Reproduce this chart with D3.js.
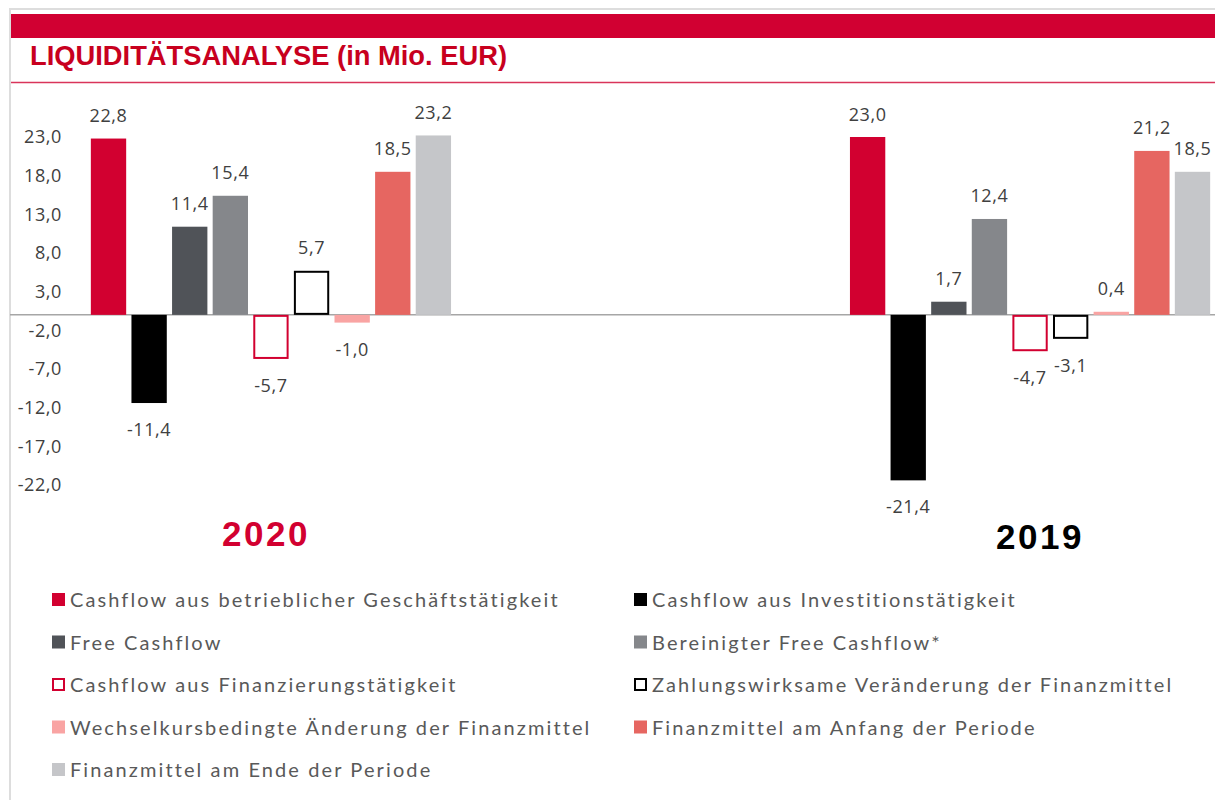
<!DOCTYPE html>
<html>
<head>
<meta charset="utf-8">
<script src="https://cdn.jsdelivr.net/npm/d3@7"></script>
<style>
  body { margin: 0; background: #fff; }
  svg { display: block; }
</style>
</head>
<body>
<div id="chart"></div>
<script>
// chart data
var years = ["2020", "2019"];
var series = [
  "Cashflow aus betrieblicher Geschäftstätigkeit",
  "Cashflow aus Investitionstätigkeit",
  "Free Cashflow",
  "Bereinigter Free Cashflow*",
  "Cashflow aus Finanzierungstätigkeit",
  "Zahlungswirksame Veränderung der Finanzmittel",
  "Wechselkursbedingte Änderung der Finanzmittel",
  "Finanzmittel am Anfang der Periode",
  "Finanzmittel am Ende der Periode"
];
var values2020 = [22.8, -11.4, 11.4, 15.4, -5.7, 5.7, -1.0, 18.5, 23.2];
var values2019 = [23.0, -21.4, 1.7, 12.4, -4.7, -3.1, 0.4, 21.2, 18.5];
var yTicks = [23, 18, 13, 8, 3, -2, -7, -12, -17, -22];

// colours per series, outlined ones get a stroke instead of a fill
var fills   = ["#d20030", "#000000", "#505358", "#85878b", "#ffffff", "#ffffff", "#f9a4a3", "#e66661", "#c5c6c9"];
var strokes = [null, null, null, null, "#d20030", "#000000", null, null, null];

var width = 1215, height = 800;

// german number format: comma decimal, plain hyphen as minus
var de = d3.formatLocale({ decimal: ",", thousands: ".", grouping: [3], currency: ["", " €"], minus: "-" });
var fmt = de.format(".1f");

var svg = d3.select("#chart").append("svg")
  .attr("width", width)
  .attr("height", height);

// frame: gray top line, left border, red band, title, red rule
svg.append("line").attr("x1", 10).attr("x2", width).attr("y1", 9).attr("y2", 9)
  .attr("stroke", "#dddddd").attr("stroke-width", 2);
svg.append("line").attr("x1", 10).attr("x2", 10).attr("y1", 8).attr("y2", height)
  .attr("stroke", "#dddddd").attr("stroke-width", 2);
svg.append("rect").attr("x", 11).attr("y", 14).attr("width", width - 11).attr("height", 24)
  .attr("fill", "#d10032");
svg.append("text")
  .attr("x", 30).attr("y", 65)
  .attr("textLength", 477).attr("lengthAdjust", "spacingAndGlyphs")
  .style("font-family", "'Liberation Sans', Arial, sans-serif")
  .style("font-weight", "bold")
  .style("font-size", "27px")
  .attr("fill", "#c8001e")
  .text("LIQUIDITÄTSANALYSE (in Mio. EUR)");
svg.append("line").attr("x1", 11).attr("x2", width).attr("y1", 82.5).attr("y2", 82.5)
  .attr("stroke", "#d9345a").attr("stroke-width", 1.5);

// scales
var y = d3.scaleLinear().domain([-22, 23]).range([485, 137]);
var x0 = d3.scaleBand().domain(years).range([88, 1213]).paddingInner(0.518).paddingOuter(0);
var x1 = d3.scaleBand().domain(d3.range(series.length)).range([0, x0.bandwidth()])
  .paddingInner(0.13).paddingOuter(0.07);

// y axis labels only
var yAxis = d3.axisLeft(y).tickValues(yTicks).tickFormat(fmt).tickSize(0).tickPadding(0);
var gy = svg.append("g").attr("transform", "translate(62,0)").call(yAxis);
gy.select(".domain").remove();
gy.selectAll("text")
  .style("font-family", "'Open Sans', sans-serif")
  .style("font-size", "18px")
  .style("letter-spacing", "0.6px")
  .attr("fill", "#404040");

// zero line
svg.append("line").attr("x1", 10).attr("x2", width).attr("y1", y(0)).attr("y2", y(0))
  .attr("stroke", "#a6a6a6").attr("stroke-width", 1.5);

// bars
var rows = [];
years.forEach(function(yr, j) {
  var vals = j === 0 ? values2020 : values2019;
  vals.forEach(function(v, i) { rows.push({ year: yr, i: i, value: v }); });
});

svg.append("g").selectAll("rect")
  .data(rows)
  .enter()
  .append("rect")
  .attr("x", function(d) { return x0(d.year) + x1(d.i) + (strokes[d.i] ? 1 : 0); })
  .attr("y", function(d) { return Math.min(y(d.value), y(0)) + (strokes[d.i] ? 1 : 0); })
  .attr("width", function(d) { return x1.bandwidth() - (strokes[d.i] ? 2 : 0); })
  .attr("height", function(d) { return Math.abs(y(d.value) - y(0)) - (strokes[d.i] ? 2 : 0); })
  .attr("fill", function(d) { return fills[d.i]; })
  .attr("stroke", function(d) { return strokes[d.i] || "none"; })
  .attr("stroke-width", 2);

// value labels
svg.append("g").selectAll("text")
  .data(rows)
  .enter()
  .append("text")
  .attr("x", function(d) { return x0(d.year) + x1(d.i) + x1.bandwidth() / 2; })
  .attr("y", function(d) { return d.value >= 0 ? y(d.value) - 16.5 : y(d.value) + 33; })
  .attr("text-anchor", "middle")
  .style("font-family", "'Open Sans', sans-serif")
  .style("font-size", "18px")
  .style("letter-spacing", "0.6px")
  .attr("fill", "#404040")
  .text(function(d) { return fmt(d.value); });

// year labels under each group
var yearColors = ["#d20030", "#000000"];
var yearDx = [-5, 10];
var yearDy = [546, 549];
svg.append("g").selectAll("text")
  .data(years)
  .enter()
  .append("text")
  .attr("x", function(d, j) { return x0(d) + x0.bandwidth() / 2 + yearDx[j]; })
  .attr("y", function(d, j) { return yearDy[j]; })
  .attr("text-anchor", "middle")
  .style("font-family", "'Liberation Sans', Arial, sans-serif")
  .style("font-weight", "bold")
  .style("font-size", "35px")
  .style("letter-spacing", "2.5px")
  .attr("fill", function(d, j) { return yearColors[j]; })
  .text(function(d) { return d; });

// legend in two columns
var legendX = [52, 634];
var legend = svg.append("g").selectAll("g")
  .data(series)
  .enter()
  .append("g")
  .attr("transform", function(d, i) {
    return "translate(" + legendX[i % 2] + "," + (607 + Math.floor(i / 2) * 42.5) + ")";
  });

legend.append("rect")
  .attr("x", function(d, i) { return strokes[i] ? 1 : 0; })
  .attr("y", function(d, i) { return -14 + (strokes[i] ? 1 : 0); })
  .attr("width", function(d, i) { return strokes[i] ? 11 : 13; })
  .attr("height", function(d, i) { return strokes[i] ? 11 : 13; })
  .attr("fill", function(d, i) { return fills[i]; })
  .attr("stroke", function(d, i) { return strokes[i] || "none"; })
  .attr("stroke-width", 2);

legend.append("text")
  .attr("x", 18)
  .attr("y", 0)
  .style("font-family", "Lato, sans-serif")
  .style("font-size", "20px")
  .style("letter-spacing", "2.1px")
  .attr("fill", "#595959")
  .text(function(d) { return d; });
</script>
</body>
</html>
